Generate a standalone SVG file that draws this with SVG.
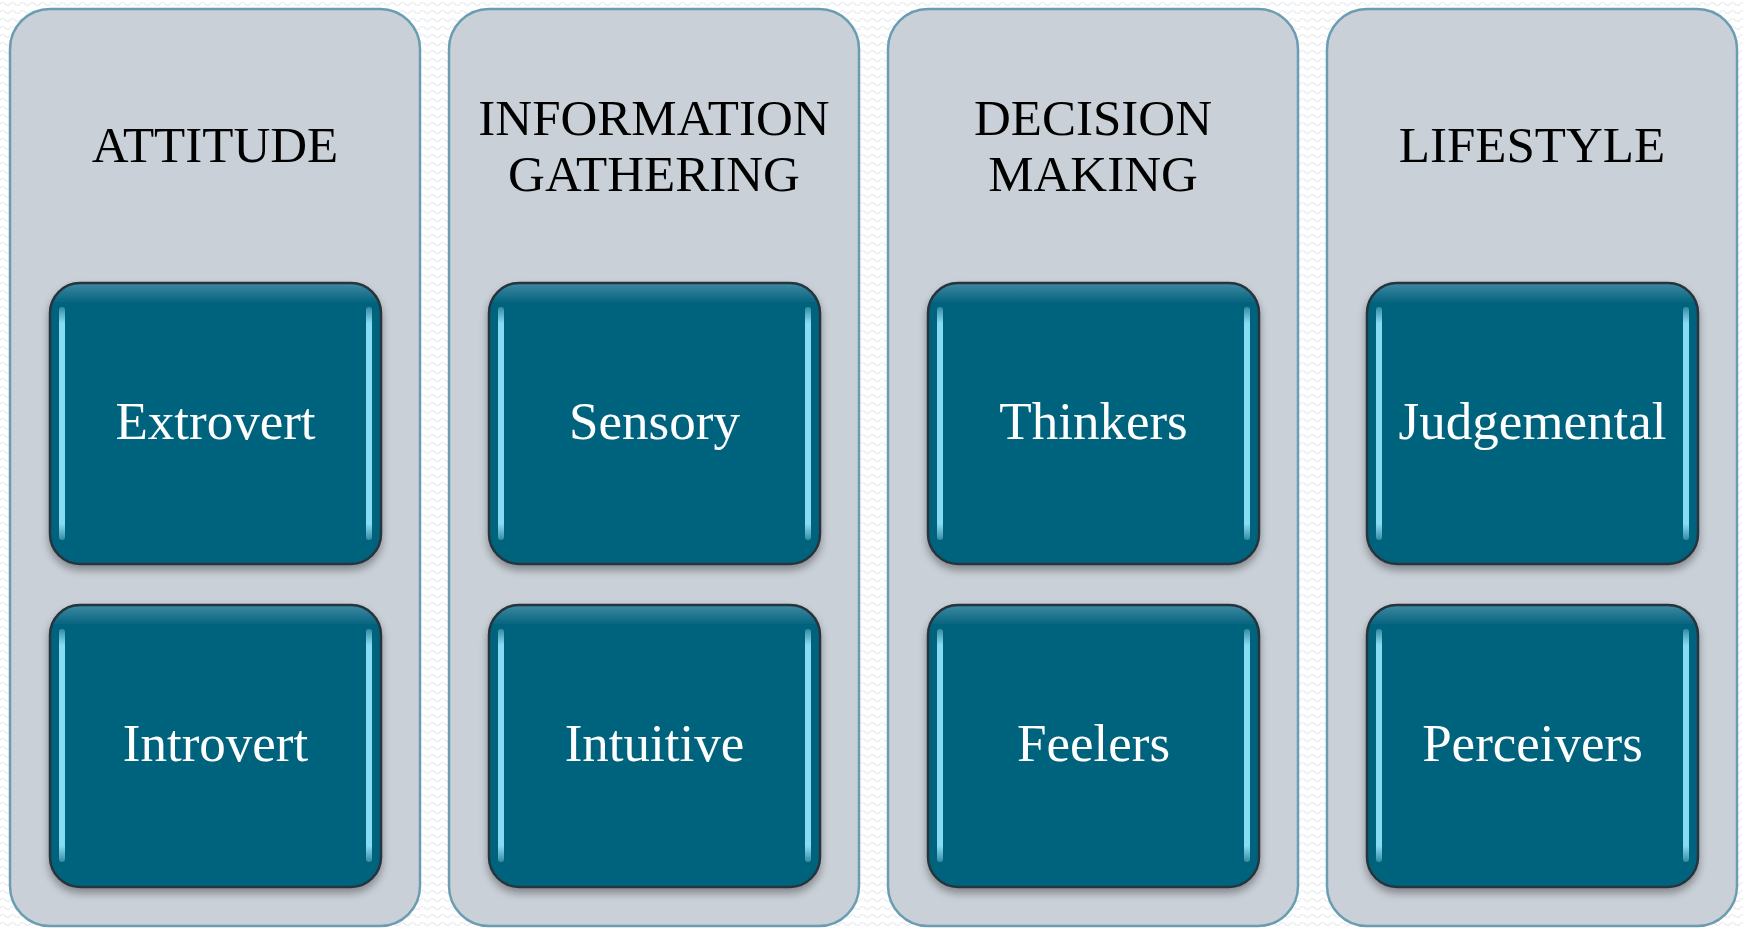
<svg xmlns="http://www.w3.org/2000/svg" width="1743" height="928" viewBox="0 0 1743 928">
  <defs>
    <pattern id="bgwave" x="0" y="0" width="10" height="8" patternUnits="userSpaceOnUse">
      <rect width="10" height="8" fill="#ffffff"/>
      <path d="M0 4 Q2.5 1 5 4 T10 4" fill="none" stroke="#e9ecef" stroke-width="1.2"/>
    </pattern>
    <linearGradient id="stripe" x1="0" y1="0" x2="0" y2="1">
      <stop offset="0" stop-color="#9ae6f8" stop-opacity="0.3"/>
      <stop offset="0.07" stop-color="#86dcf3" stop-opacity="1"/>
      <stop offset="0.93" stop-color="#86dcf3" stop-opacity="1"/>
      <stop offset="1" stop-color="#9ae6f8" stop-opacity="0.3"/>
    </linearGradient>
    <linearGradient id="topsheen" x1="0" y1="0" x2="0" y2="1">
      <stop offset="0" stop-color="#3f8aa3"/>
      <stop offset="0.07" stop-color="#05637e"/>
      <stop offset="1" stop-color="#05637e"/>
    </linearGradient>
    <filter id="shadow" x="-10%" y="-10%" width="120%" height="125%">
      <feGaussianBlur in="SourceAlpha" stdDeviation="4"/>
      <feOffset dx="0" dy="5" result="b"/>
      <feComponentTransfer><feFuncA type="linear" slope="0.35"/></feComponentTransfer>
      <feMerge><feMergeNode/><feMergeNode in="SourceGraphic"/></feMerge>
    </filter>
    <g id="gloss">
      <rect x="9" y="24" width="6" height="233" rx="3" fill="url(#stripe)"/>
      <rect x="316" y="24" width="6" height="233" rx="3" fill="url(#stripe)"/>
    </g>
  </defs>
  <style>
    .panel { fill: #c9d0d7; stroke: #6b9db2; stroke-width: 2.5; }
    .box { fill: url(#topsheen); stroke: #26343c; stroke-width: 2.5; }
    .head { font-family: "Liberation Serif", "Times New Roman", serif; font-size: 51px; fill: #000000; text-anchor: middle; }
    .lbl { font-family: "Liberation Serif", "Times New Roman", serif; font-size: 53px; fill: #ffffff; text-anchor: middle; }
  </style>
  <rect width="1743" height="928" fill="url(#bgwave)"/>

  <g id="connectors"/>

  <g id="col-attitude">
    <rect class="panel" x="10" y="9" width="410" height="917" rx="40"/>
    <text class="head" x="215" y="162">ATTITUDE</text>
  </g>
  <g id="col-information">
    <rect class="panel" x="449" y="9" width="410" height="917" rx="40"/>
    <text class="head" x="654" y="135">INFORMATION</text>
    <text class="head" x="654" y="191">GATHERING</text>
  </g>
  <g id="col-decision">
    <rect class="panel" x="888" y="9" width="410" height="917" rx="40"/>
    <text class="head" x="1093" y="135">DECISION</text>
    <text class="head" x="1093" y="191">MAKING</text>
  </g>
  <g id="col-lifestyle">
    <rect class="panel" x="1327" y="9" width="410" height="917" rx="40"/>
    <text class="head" x="1532" y="162">LIFESTYLE</text>
  </g>

  <g id="node-extrovert" transform="translate(50,283)" filter="url(#shadow)">
    <rect class="box" x="0" y="0" width="331" height="281" rx="30"/>
    <use href="#gloss"/>
    <text class="lbl" x="165.5" y="156">Extrovert</text>
  </g>
  <g id="node-introvert" transform="translate(50,605)" filter="url(#shadow)">
    <rect class="box" x="0" y="0" width="331" height="282" rx="30"/>
    <use href="#gloss"/>
    <text class="lbl" x="165.5" y="156">Introvert</text>
  </g>
  <g id="node-sensory" transform="translate(489,283)" filter="url(#shadow)">
    <rect class="box" x="0" y="0" width="331" height="281" rx="30"/>
    <use href="#gloss"/>
    <text class="lbl" x="165.5" y="156">Sensory</text>
  </g>
  <g id="node-intuitive" transform="translate(489,605)" filter="url(#shadow)">
    <rect class="box" x="0" y="0" width="331" height="282" rx="30"/>
    <use href="#gloss"/>
    <text class="lbl" x="165.5" y="156">Intuitive</text>
  </g>
  <g id="node-thinkers" transform="translate(928,283)" filter="url(#shadow)">
    <rect class="box" x="0" y="0" width="331" height="281" rx="30"/>
    <use href="#gloss"/>
    <text class="lbl" x="165.5" y="156">Thinkers</text>
  </g>
  <g id="node-feelers" transform="translate(928,605)" filter="url(#shadow)">
    <rect class="box" x="0" y="0" width="331" height="282" rx="30"/>
    <use href="#gloss"/>
    <text class="lbl" x="165.5" y="156">Feelers</text>
  </g>
  <g id="node-judgemental" transform="translate(1367,283)" filter="url(#shadow)">
    <rect class="box" x="0" y="0" width="331" height="281" rx="30"/>
    <use href="#gloss"/>
    <text class="lbl" x="165.5" y="156">Judgemental</text>
  </g>
  <g id="node-perceivers" transform="translate(1367,605)" filter="url(#shadow)">
    <rect class="box" x="0" y="0" width="331" height="282" rx="30"/>
    <use href="#gloss"/>
    <text class="lbl" x="165.5" y="156">Perceivers</text>
  </g>
</svg>
